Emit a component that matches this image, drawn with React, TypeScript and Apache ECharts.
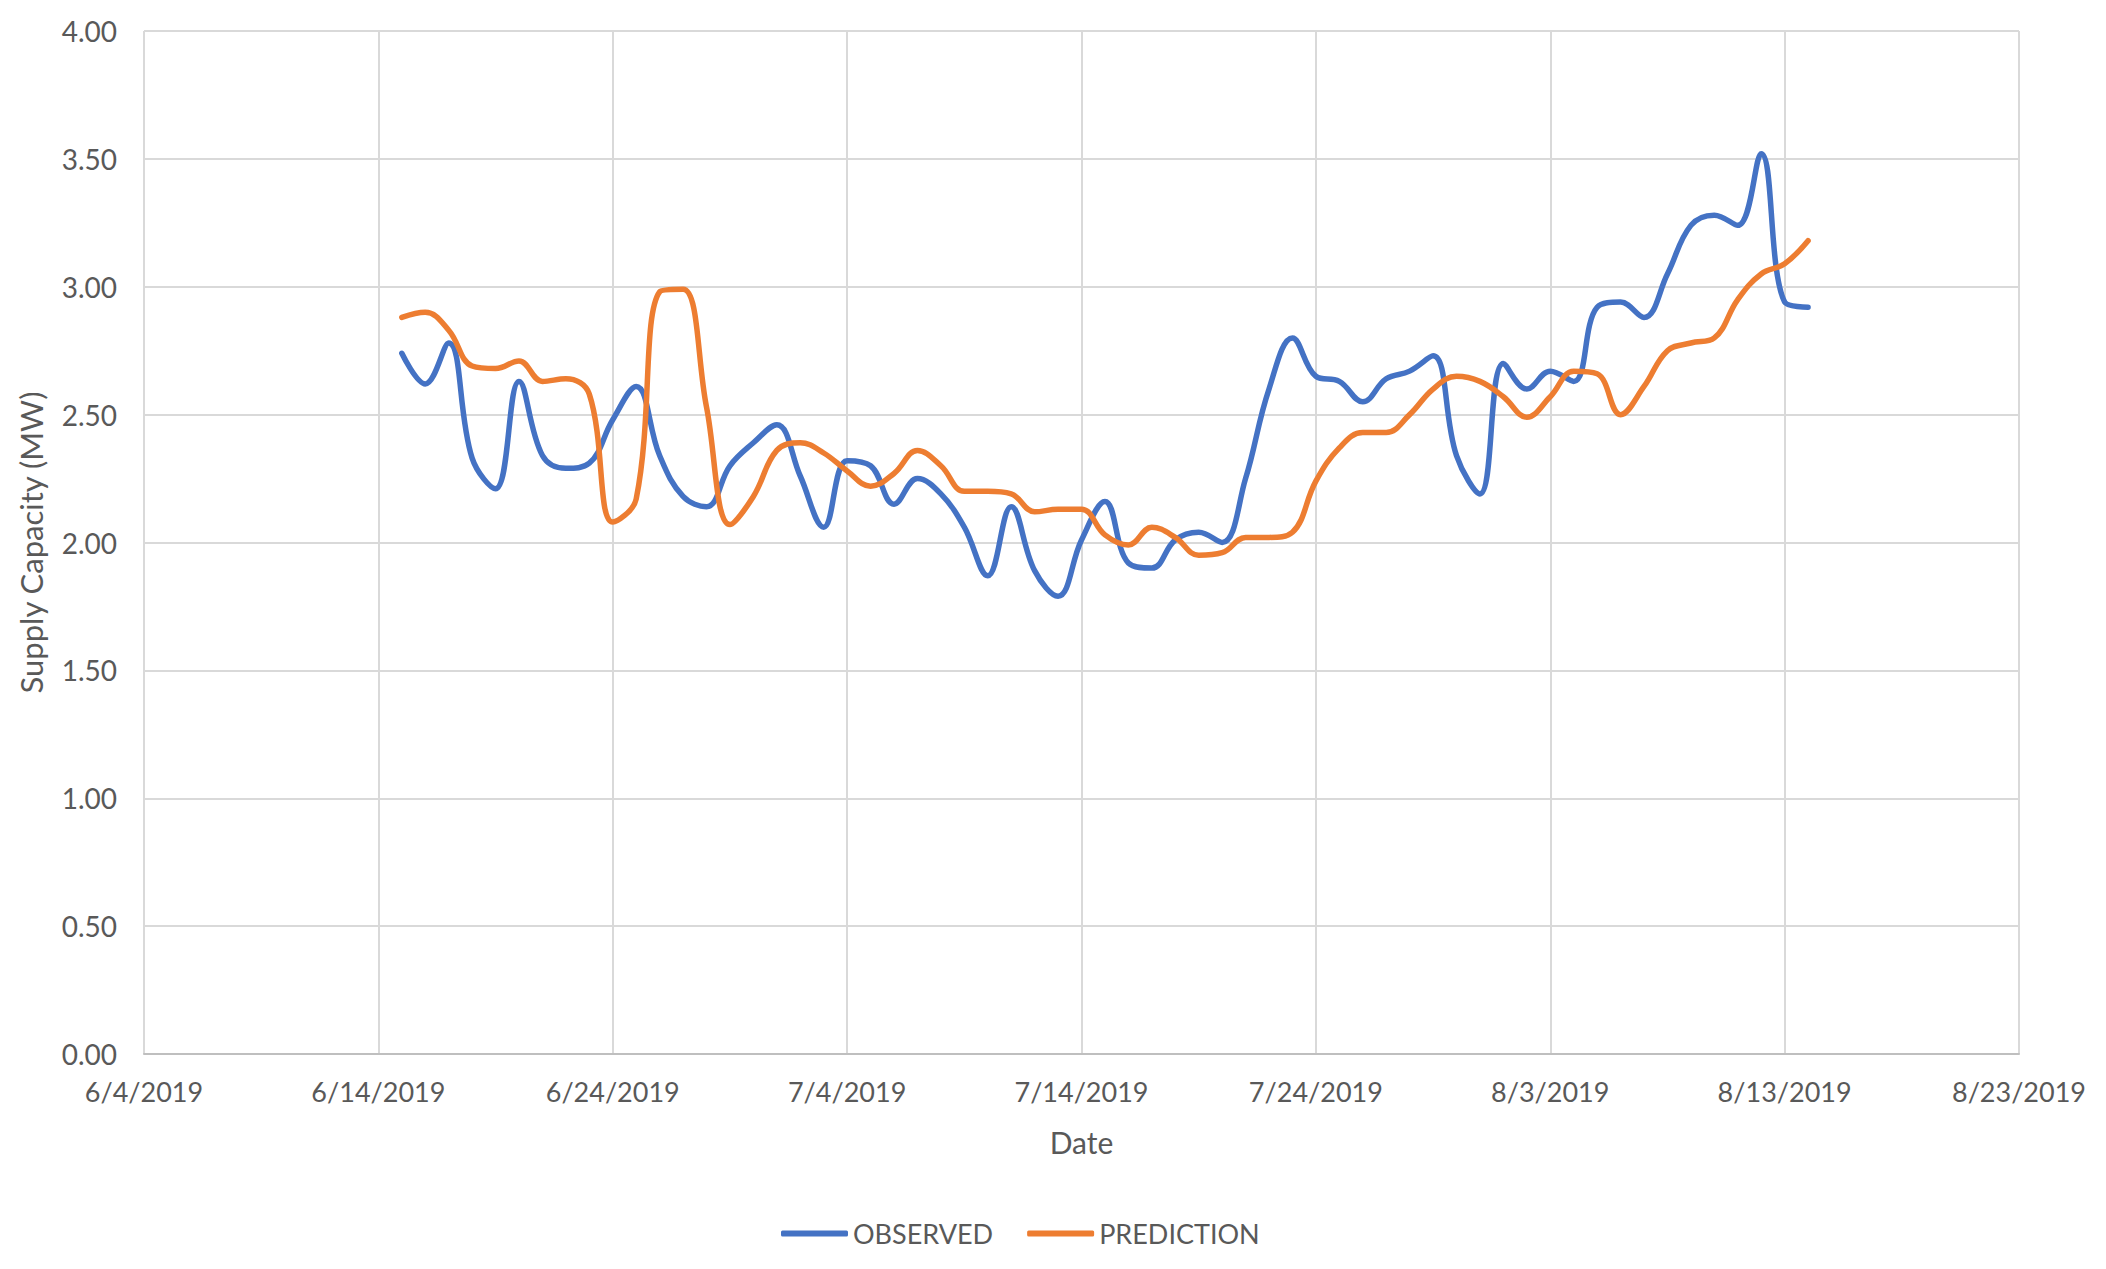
import React, { useEffect, useRef } from "react";
import * as echarts from "echarts";

const dates = [
  "6/15/2019", "6/16/2019", "6/17/2019", "6/18/2019", "6/19/2019", "6/20/2019", "6/21/2019", "6/22/2019",
  "6/23/2019", "6/24/2019", "6/25/2019", "6/26/2019", "6/27/2019", "6/28/2019", "6/29/2019", "6/30/2019",
  "7/1/2019", "7/2/2019", "7/3/2019", "7/4/2019", "7/5/2019", "7/6/2019", "7/7/2019", "7/8/2019",
  "7/9/2019", "7/10/2019", "7/11/2019", "7/12/2019", "7/13/2019", "7/14/2019", "7/15/2019", "7/16/2019",
  "7/17/2019", "7/18/2019", "7/19/2019", "7/20/2019", "7/21/2019", "7/22/2019", "7/23/2019", "7/24/2019",
  "7/25/2019", "7/26/2019", "7/27/2019", "7/28/2019", "7/29/2019", "7/30/2019", "7/31/2019",
  "8/1/2019", "8/2/2019", "8/3/2019", "8/4/2019", "8/5/2019", "8/6/2019", "8/7/2019", "8/8/2019",
  "8/9/2019", "8/10/2019", "8/11/2019", "8/12/2019", "8/13/2019", "8/14/2019",
];

const observed = [
  2.74, 2.62, 2.78, 2.33, 2.21, 2.63, 2.34, 2.29, 2.31, 2.48, 2.61, 2.34, 2.18, 2.14, 2.30, 2.39,
  2.46, 2.26, 2.06, 2.32, 2.30, 2.15, 2.25, 2.19, 2.06, 1.87, 2.14, 1.89, 1.79, 2.01, 2.16, 1.92,
  1.90, 2.01, 2.04, 2.00, 2.25, 2.60, 2.80, 2.65, 2.63, 2.55, 2.64, 2.67, 2.73, 2.34, 2.19,
  2.70, 2.60, 2.67, 2.63, 2.92, 2.94, 2.88, 3.05, 3.24, 3.28, 3.24, 3.52, 2.94, 2.92,
];

const prediction = [
  2.88, 2.90, 2.83, 2.69, 2.68, 2.71, 2.63, 2.64, 2.58, 2.08, 2.17, 2.98, 2.99, 2.53, 2.07, 2.18,
  2.36, 2.39, 2.35, 2.28, 2.22, 2.27, 2.36, 2.30, 2.20, 2.20, 2.19, 2.12, 2.13, 2.13, 2.03, 1.99,
  2.06, 2.02, 1.95, 1.96, 2.02, 2.02, 2.04, 2.24, 2.37, 2.43, 2.43, 2.50, 2.60, 2.65, 2.63,
  2.57, 2.49, 2.57, 2.67, 2.66, 2.50, 2.61, 2.75, 2.78, 2.80, 2.95, 3.05, 3.09, 3.18,
];

const xAxisStart = "6/4/2019";
const xAxisEnd = "8/23/2019";
const xTickDays = 10;
const yMin = 0;
const yMax = 4;
const yStep = 0.5;

const DAY = 86400000;
const parseDate = (s: string) => {
  const [m, d, y] = s.split("/").map(Number);
  return Date.UTC(y, m - 1, d);
};
const base = parseDate(xAxisStart);
const dayOf = (s: string) => Math.round((parseDate(s) - base) / DAY);
const fmtDay = (v: number) => {
  const dt = new Date(base + v * DAY);
  return `${dt.getUTCMonth() + 1}/${dt.getUTCDate()}/${dt.getUTCFullYear()}`;
};

const FONT = "Lato";
const TEXT = "#595959";
const BLUE = "#4472C4";
const ORANGE = "#ED7D31";

export default function App() {
  const ref = useRef<HTMLDivElement>(null);
  useEffect(() => {
    if (!ref.current) return;
    const chart = echarts.init(ref.current, undefined, { renderer: "svg" });
    chart.setOption({
      animation: false,
      backgroundColor: "#ffffff",
      textStyle: { fontFamily: FONT },
      grid: { left: 144, right: 87, top: 31, bottom: 215 },
      legend: {
        left: 776,
        top: 1215,
        itemWidth: 67,
        itemHeight: 6,
        itemGap: 34,
        icon: "roundRect",
        textStyle: { color: TEXT, fontSize: 27, fontFamily: FONT },
        data: [
          { name: "OBSERVED", itemStyle: { color: BLUE } },
          { name: "PREDICTION", itemStyle: { color: ORANGE } },
        ],
      },
      xAxis: {
        type: "value",
        min: 0,
        max: dayOf(xAxisEnd),
        interval: xTickDays,
        name: "Date",
        nameLocation: "middle",
        nameGap: 73,
        nameTextStyle: { color: TEXT, fontSize: 30, fontFamily: FONT },
        axisLine: { show: true, onZero: true, lineStyle: { color: "#bfbfbf", width: 2 } },
        axisTick: { show: false },
        splitLine: { show: true, lineStyle: { color: "#d9d9d9", width: 2 } },
        axisLabel: {
          color: TEXT,
          fontSize: 27,
          fontFamily: FONT,
          margin: 24,
          formatter: (v: number) => fmtDay(v),
        },
      },
      yAxis: {
        type: "value",
        min: yMin,
        max: yMax,
        interval: yStep,
        name: "Supply Capacity (MW)",
        nameLocation: "middle",
        nameGap: 98,
        nameTextStyle: { color: TEXT, fontSize: 31, fontFamily: FONT },
        axisLine: { show: false },
        axisTick: { show: false },
        splitLine: { show: true, lineStyle: { color: "#d9d9d9", width: 2 } },
        axisLabel: {
          color: TEXT,
          fontSize: 28,
          fontFamily: FONT,
          margin: 27,
          formatter: (v: number) => v.toFixed(2),
        },
      },
      series: [
        {
          name: "OBSERVED",
          type: "line",
          smooth: 0.4,
          symbol: "none",
          data: dates.map((d, i) => [dayOf(d), observed[i]]),
          lineStyle: { color: BLUE, width: 5.5, cap: "round", join: "round" },
          itemStyle: { color: BLUE },
        },
        {
          name: "PREDICTION",
          type: "line",
          smooth: 0.4,
          symbol: "none",
          data: dates.map((d, i) => [dayOf(d), prediction[i]]),
          lineStyle: { color: ORANGE, width: 5.5, cap: "round", join: "round" },
          itemStyle: { color: ORANGE },
        },
      ],
    });
    return () => chart.dispose();
  }, []);
  return (
    <div
      ref={ref}
      style={{ position: "fixed", left: 0, top: 0, width: 2106, height: 1269, background: "#fff" }}
    />
  );
}
